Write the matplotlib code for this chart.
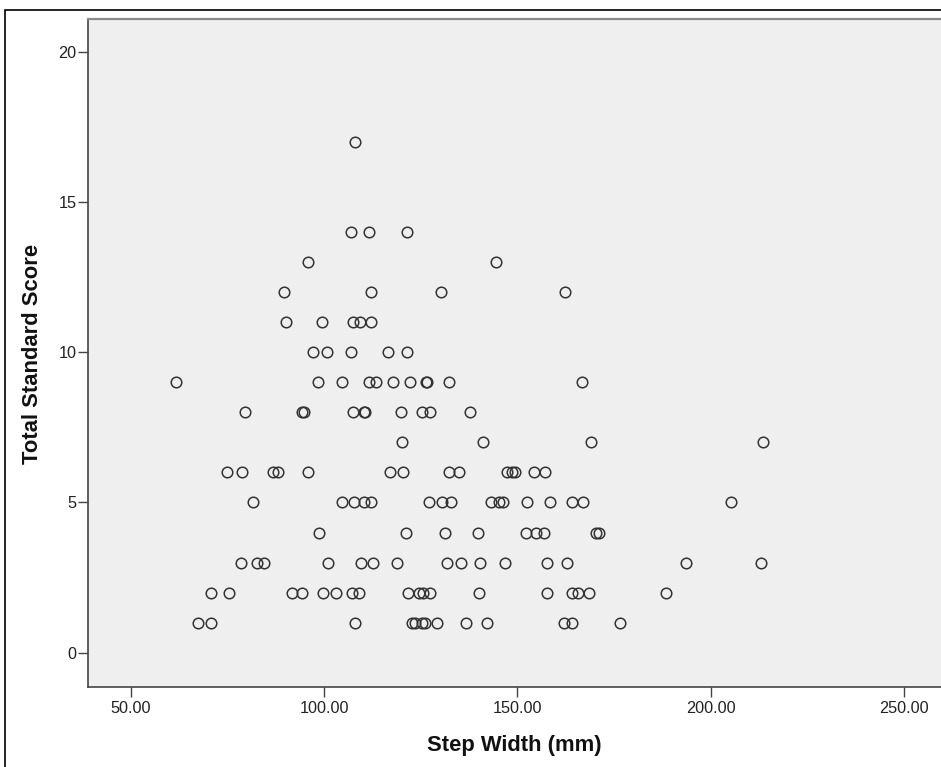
import matplotlib.pyplot as plt
from matplotlib.patches import Rectangle
from matplotlib.ticker import FormatStrFormatter

# step width (mm) and total standard score, one line per score level
step_width = [
    108.0,
    107.0, 111.7, 121.4,
    95.9, 144.4,
    89.7, 112.0, 130.1, 162.4,
    90.2, 99.4, 107.4, 109.3, 112.1,
    97.2, 100.8, 106.9, 116.6, 121.5,
    61.6, 98.3, 104.6, 111.7, 113.4, 117.9, 122.2, 126.3, 126.7, 132.3, 166.8,
    79.6, 94.3, 94.7, 107.4, 110.2, 110.6, 119.9, 125.3, 127.4, 137.7,
    120.1, 141.0, 169.0, 213.6,
    75.0, 78.8, 86.9, 88.2, 95.9, 117.1, 120.5, 132.3, 135.0, 147.2, 148.5, 149.4, 154.3, 157.1,
    81.5, 104.6, 107.8, 110.2, 112.1, 127.2, 130.4, 132.8, 143.1, 145.3, 146.2, 152.4, 158.3, 164.2, 167.0, 205.2,
    98.6, 121.1, 131.3, 139.9, 152.1, 154.7, 156.9, 170.3, 171.2,
    78.6, 82.6, 84.5, 100.9, 109.6, 112.7, 118.8, 131.9, 135.3, 140.3, 146.9, 157.7, 162.7, 193.5, 213.0,
    70.7, 75.5, 91.8, 94.2, 99.8, 103.0, 107.2, 109.1, 121.8, 124.6, 125.5, 127.4, 140.1, 157.6, 164.0, 165.7, 168.6, 188.3,
    67.5, 70.8, 108.0, 122.7, 123.5, 125.3, 126.1, 129.1, 136.6, 142.1, 161.9, 164.0, 176.5,
]
total_score = [
    17,
    14, 14, 14,
    13, 13,
    12, 12, 12, 12,
    11, 11, 11, 11, 11,
    10, 10, 10, 10, 10,
    9, 9, 9, 9, 9, 9, 9, 9, 9, 9, 9,
    8, 8, 8, 8, 8, 8, 8, 8, 8, 8,
    7, 7, 7, 7,
    6, 6, 6, 6, 6, 6, 6, 6, 6, 6, 6, 6, 6, 6,
    5, 5, 5, 5, 5, 5, 5, 5, 5, 5, 5, 5, 5, 5, 5, 5,
    4, 4, 4, 4, 4, 4, 4, 4, 4,
    3, 3, 3, 3, 3, 3, 3, 3, 3, 3, 3, 3, 3, 3, 3,
    2, 2, 2, 2, 2, 2, 2, 2, 2, 2, 2, 2, 2, 2, 2, 2, 2, 2,
    1, 1, 1, 1, 1, 1, 1, 1, 1, 1, 1, 1, 1,
]
x_ticks = [50, 100, 150, 200, 250]
y_ticks = [0, 5, 10, 15, 20]

plt.rcParams['font.family'] = ['Liberation Sans', 'DejaVu Sans']

W, H = 941, 767
fig = plt.figure(figsize=(W / 100, H / 100), dpi=100)

# outer frame of the output panel
fig.patches.append(Rectangle((5 / W, -0.05), 1.2, 1 - 10 / H + 0.05,
                             transform=fig.transFigure, fill=False,
                             edgecolor='black', linewidth=1.2))

ax = fig.add_axes([88 / W, (H - 687) / H, (W - 88) / W, (687 - 19) / H])
ax.set_facecolor('#efefef')

ax.plot(step_width, total_score, linestyle='none', marker='o', markersize=7.6,
        markerfacecolor='none', markeredgecolor='#333333', markeredgewidth=1.1)

ax.set_xlim(38.96, 259.5)
ax.set_ylim(-1.14, 21.09)
ax.set_xticks(x_ticks)
ax.set_yticks(y_ticks)
ax.xaxis.set_major_formatter(FormatStrFormatter('%.2f'))

for side in ['left', 'bottom']:
    ax.spines[side].set_color('#444444')
    ax.spines[side].set_linewidth(1.2)
ax.spines['top'].set_color('#8a8a8a')
ax.spines['top'].set_linewidth(1.6)
ax.spines['right'].set_visible(False)

ax.tick_params(axis='both', direction='out', length=7.2, width=1.0,
               color='#444444', labelsize=11.7, labelcolor='#222222')
ax.tick_params(axis='x', pad=3)
ax.tick_params(axis='y', pad=1)

fig.text(514.5 / W, (H - 745) / H, 'Step Width (mm)', ha='center', va='center',
         fontsize=15.8, fontweight='bold', color='#111111')
fig.text(33 / W, (H - 354) / H, 'Total Standard Score', ha='center', va='center',
         rotation=90, fontsize=15.8, fontweight='bold', color='#111111')

fig.savefig('out.png', dpi=100)
